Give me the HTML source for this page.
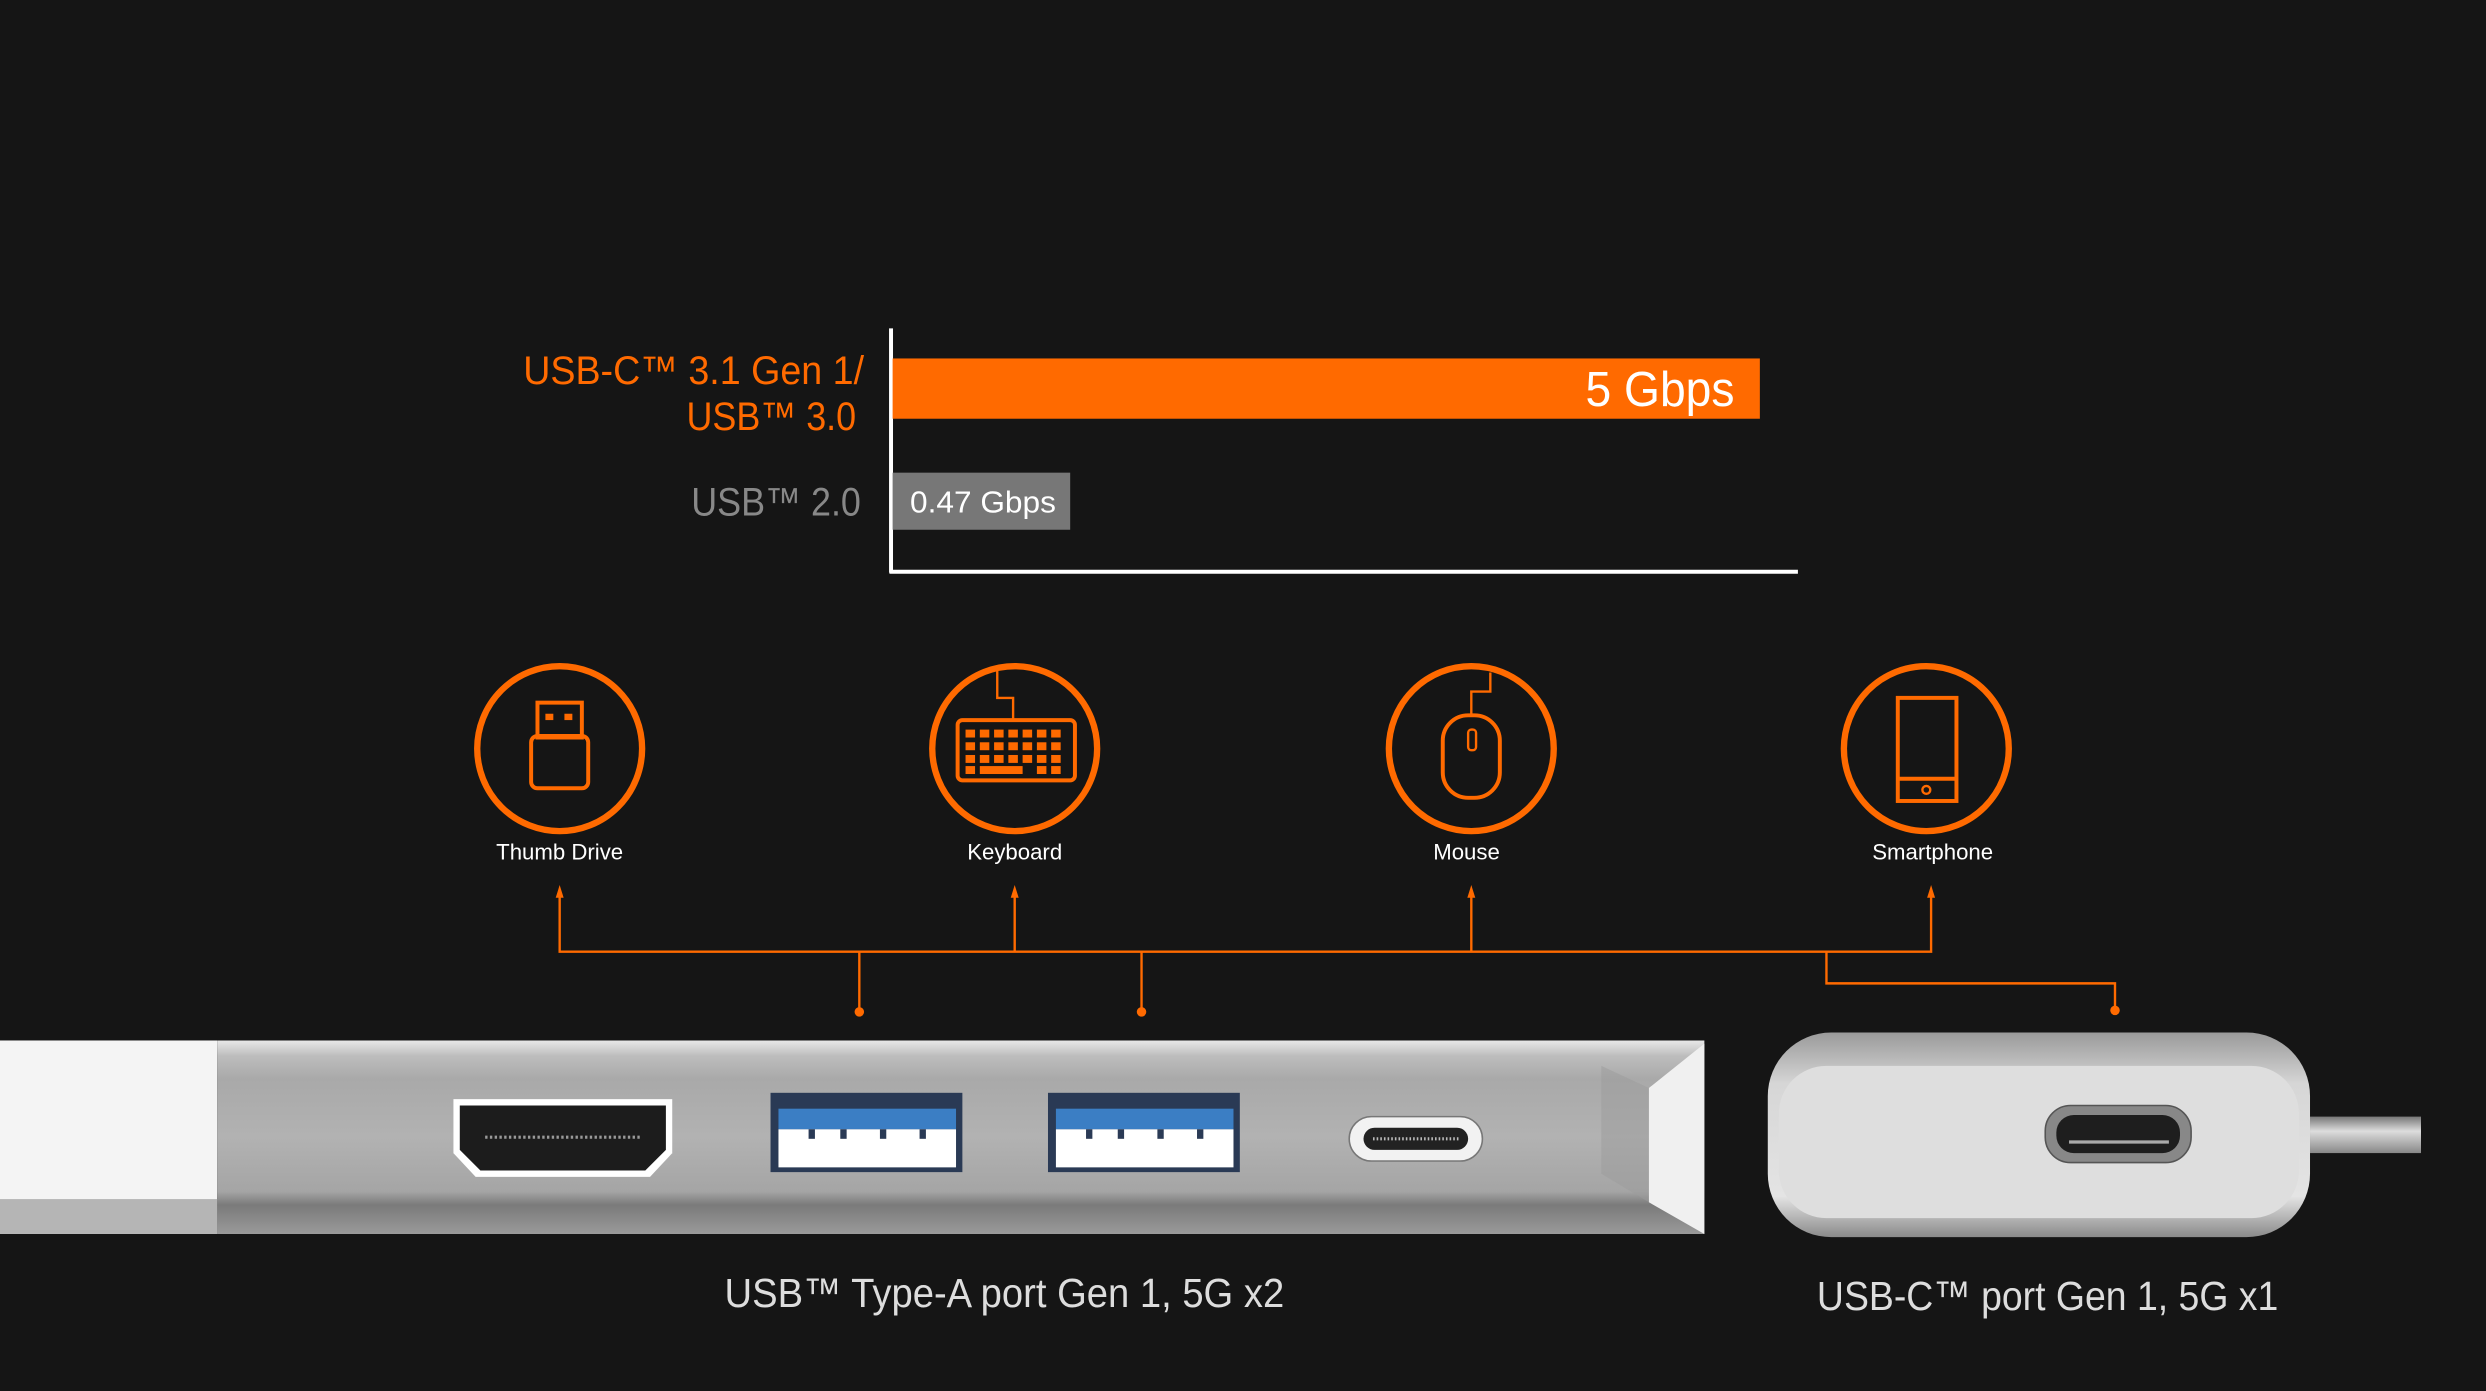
<!DOCTYPE html>
<html><head><meta charset="utf-8"><style>
html,body{margin:0;padding:0;background:#151515;}
svg{display:block;}
text{font-family:"Liberation Sans",sans-serif;}
</style></head><body>
<svg width="2486" height="1391" viewBox="0 0 1568 877" preserveAspectRatio="none" xmlns="http://www.w3.org/2000/svg">
<defs>
<linearGradient id="hub" x1="0" y1="0" x2="0" y2="1">
<stop offset="0" stop-color="#e8e8e8"/><stop offset="0.08" stop-color="#bdbdbd"/><stop offset="0.2" stop-color="#a9a9a9"/><stop offset="0.5" stop-color="#b2b2b2"/><stop offset="0.78" stop-color="#a5a5a5"/><stop offset="0.85" stop-color="#7a7a7a"/><stop offset="1" stop-color="#9a9a9a"/>
</linearGradient>
<linearGradient id="dev" x1="0" y1="0" x2="0" y2="1">
<stop offset="0" stop-color="#9a9a9a"/><stop offset="0.25" stop-color="#d6d6d6"/><stop offset="0.8" stop-color="#e4e4e4"/><stop offset="1" stop-color="#8a8a8a"/>
</linearGradient>
<linearGradient id="cab" x1="0" y1="0" x2="0" y2="1">
<stop offset="0" stop-color="#777"/><stop offset="0.4" stop-color="#ddd"/><stop offset="1" stop-color="#888"/>
</linearGradient>
</defs>
<rect width="1568" height="877" fill="#151515"/>
<!-- chart -->
<line x1="562" y1="207" x2="562" y2="361" stroke="#fff" stroke-width="2.5"/>
<line x1="561" y1="360.5" x2="1134" y2="360.5" stroke="#fff" stroke-width="2.5"/>
<rect x="563" y="226" width="547" height="38" fill="#ff6a00"/>
<text x="1000" y="256" font-size="31" fill="#fff" textLength="94" lengthAdjust="spacingAndGlyphs">5 Gbps</text>
<rect x="563" y="298" width="112" height="36" fill="#777"/>
<text x="574" y="323" font-size="19" fill="#fff" textLength="92" lengthAdjust="spacingAndGlyphs">0.47 Gbps</text>
<text x="330" y="242" font-size="25" fill="#ff6a00" textLength="215" lengthAdjust="spacingAndGlyphs">USB-C™ 3.1 Gen 1/</text>
<text x="433" y="271" font-size="25" fill="#ff6a00" textLength="107" lengthAdjust="spacingAndGlyphs">USB™ 3.0</text>
<text x="436" y="325" font-size="25" fill="#888" textLength="107" lengthAdjust="spacingAndGlyphs">USB™ 2.0</text>
<!-- circles -->
<g fill="none" stroke="#ff6a00" stroke-width="4">
<circle cx="353" cy="472" r="52"/><circle cx="640" cy="472" r="52"/><circle cx="928" cy="472" r="52"/><circle cx="1215" cy="472" r="52"/>
</g>
<g fill="none" stroke="#ff6a00" stroke-width="2.5">
<rect x="339" y="443" width="28" height="22"/><rect x="335" y="464" width="36" height="33" rx="4"/>
<rect x="344" y="450" width="5" height="4" fill="#ff6a00" stroke="none"/><rect x="356" y="450" width="5" height="4" fill="#ff6a00" stroke="none"/>
<rect x="604" y="454" width="74" height="38" rx="3"/>
<path d="M629 423 V440 H639 V454" stroke-width="1.5"/>
<rect x="910" y="451" width="36" height="52" rx="16"/>
<rect x="926" y="460" width="5" height="13" rx="2" stroke-width="1.5"/>
<path d="M940 424 V436 H928 V451" stroke-width="1.5"/>
<rect x="1197" y="440" width="37" height="65"/><line x1="1197" y1="491" x2="1234" y2="491"/><circle cx="1215" cy="498" r="2.5" stroke-width="1.5"/>
</g>
<g fill="#ff6a00">
<rect x="609" y="460" width="6" height="5"/><rect x="618" y="460" width="6" height="5"/><rect x="627" y="460" width="6" height="5"/><rect x="636" y="460" width="6" height="5"/><rect x="645" y="460" width="6" height="5"/><rect x="654" y="460" width="6" height="5"/><rect x="663" y="460" width="6" height="5"/>
<rect x="609" y="468" width="6" height="5"/><rect x="618" y="468" width="6" height="5"/><rect x="627" y="468" width="6" height="5"/><rect x="636" y="468" width="6" height="5"/><rect x="645" y="468" width="6" height="5"/><rect x="654" y="468" width="6" height="5"/><rect x="663" y="468" width="6" height="5"/>
<rect x="609" y="476" width="6" height="5"/><rect x="618" y="476" width="6" height="5"/><rect x="627" y="476" width="6" height="5"/><rect x="636" y="476" width="6" height="5"/><rect x="645" y="476" width="6" height="5"/><rect x="654" y="476" width="6" height="5"/><rect x="663" y="476" width="6" height="5"/>
<rect x="609" y="483" width="6" height="5"/><rect x="618" y="483" width="27" height="5"/><rect x="654" y="483" width="6" height="5"/><rect x="663" y="483" width="6" height="5"/>
</g>
<g font-size="14" fill="#fff" text-anchor="middle">
<text x="353" y="542">Thumb Drive</text><text x="640" y="542">Keyboard</text><text x="925" y="542">Mouse</text><text x="1219" y="542">Smartphone</text>
</g>
<!-- connectors -->
<g stroke="#ff6a00" stroke-width="1.5" fill="none">
<path d="M353 562 V600 H1218 V562"/><path d="M640 562 V600"/><path d="M928 562 V600"/>
<path d="M542 600 V638"/><path d="M720 600 V638"/>
<path d="M1152 600 V620 H1334 V637"/>
</g>
<g fill="#ff6a00">
<path d="M353 558 l-2.5 8 h5z"/><path d="M640 558 l-2.5 8 h5z"/><path d="M928 558 l-2.5 8 h5z"/><path d="M1218 558 l-2.5 8 h5z"/>
<circle cx="542" cy="638" r="3"/><circle cx="720" cy="638" r="3"/><circle cx="1334" cy="637" r="3"/>
</g>
<!-- hub -->
<rect x="0" y="656" width="137" height="122" fill="#f4f4f4"/>
<rect x="0" y="756" width="137" height="22" fill="#b5b5b5"/>
<path d="M137 656 H1075 V778 H137Z" fill="url(#hub)"/>
<path d="M1040 686 L1075 658 V778 L1040 758Z" fill="#f0f0f0"/>
<path d="M1010 672 L1040 686 L1040 758 L1010 740Z" fill="#9c9c9c" opacity="0.5"/>
<path d="M286 693 H424 V727 L410 742 H300 L286 727Z" fill="#fff"/>
<path d="M290 697 H420 V725 L407 738 H303 L290 725Z" fill="#1c1c1c"/>
<line x1="306" y1="717" x2="404" y2="717" stroke="#999" stroke-width="2" stroke-dasharray="1.5 1.5"/>
<g>
<rect x="486" y="689" width="121" height="50" fill="#2a3a55"/>
<rect x="491" y="699" width="112" height="13" fill="#3b7ec4"/>
<rect x="491" y="712" width="112" height="24" fill="#fff"/>
<rect x="661" y="689" width="121" height="50" fill="#2a3a55"/>
<rect x="666" y="699" width="112" height="13" fill="#3b7ec4"/>
<rect x="666" y="712" width="112" height="24" fill="#fff"/>
<g fill="#2a3a55"><rect x="510" y="712" width="4" height="6"/><rect x="530" y="712" width="4" height="6"/><rect x="555" y="712" width="4" height="6"/><rect x="580" y="712" width="4" height="6"/>
<rect x="685" y="712" width="4" height="6"/><rect x="705" y="712" width="4" height="6"/><rect x="730" y="712" width="4" height="6"/><rect x="755" y="712" width="4" height="6"/></g>
</g>
<rect x="851" y="704" width="84" height="28" rx="14" fill="#f2f2f2" stroke="#777" stroke-width="1"/>
<rect x="860" y="711" width="66" height="14" rx="7" fill="#222"/>
<line x1="866" y1="718" x2="920" y2="718" stroke="#bbb" stroke-width="2" stroke-dasharray="1 1.3"/>
<!-- right device -->
<rect x="1457" y="704" width="70" height="23" fill="url(#cab)"/>
<rect x="1115" y="651" width="342" height="129" rx="40" fill="url(#dev)"/>
<rect x="1122" y="672" width="328" height="96" rx="30" fill="#dedede"/>
<rect x="1290" y="697" width="92" height="36" rx="16" fill="#888" stroke="#555" stroke-width="1"/>
<rect x="1297" y="703" width="78" height="24" rx="11" fill="#1e1e1e"/>
<line x1="1305" y1="720" x2="1368" y2="720" stroke="#aaa" stroke-width="2"/>
<!-- bottom labels -->
<text x="457" y="824" font-size="26" fill="#ddd" textLength="353" lengthAdjust="spacingAndGlyphs">USB™ Type-A port Gen 1, 5G x2</text>
<text x="1146" y="826" font-size="26" fill="#ddd" textLength="291" lengthAdjust="spacingAndGlyphs">USB-C™ port Gen 1, 5G x1</text>
</svg>
</body></html>
